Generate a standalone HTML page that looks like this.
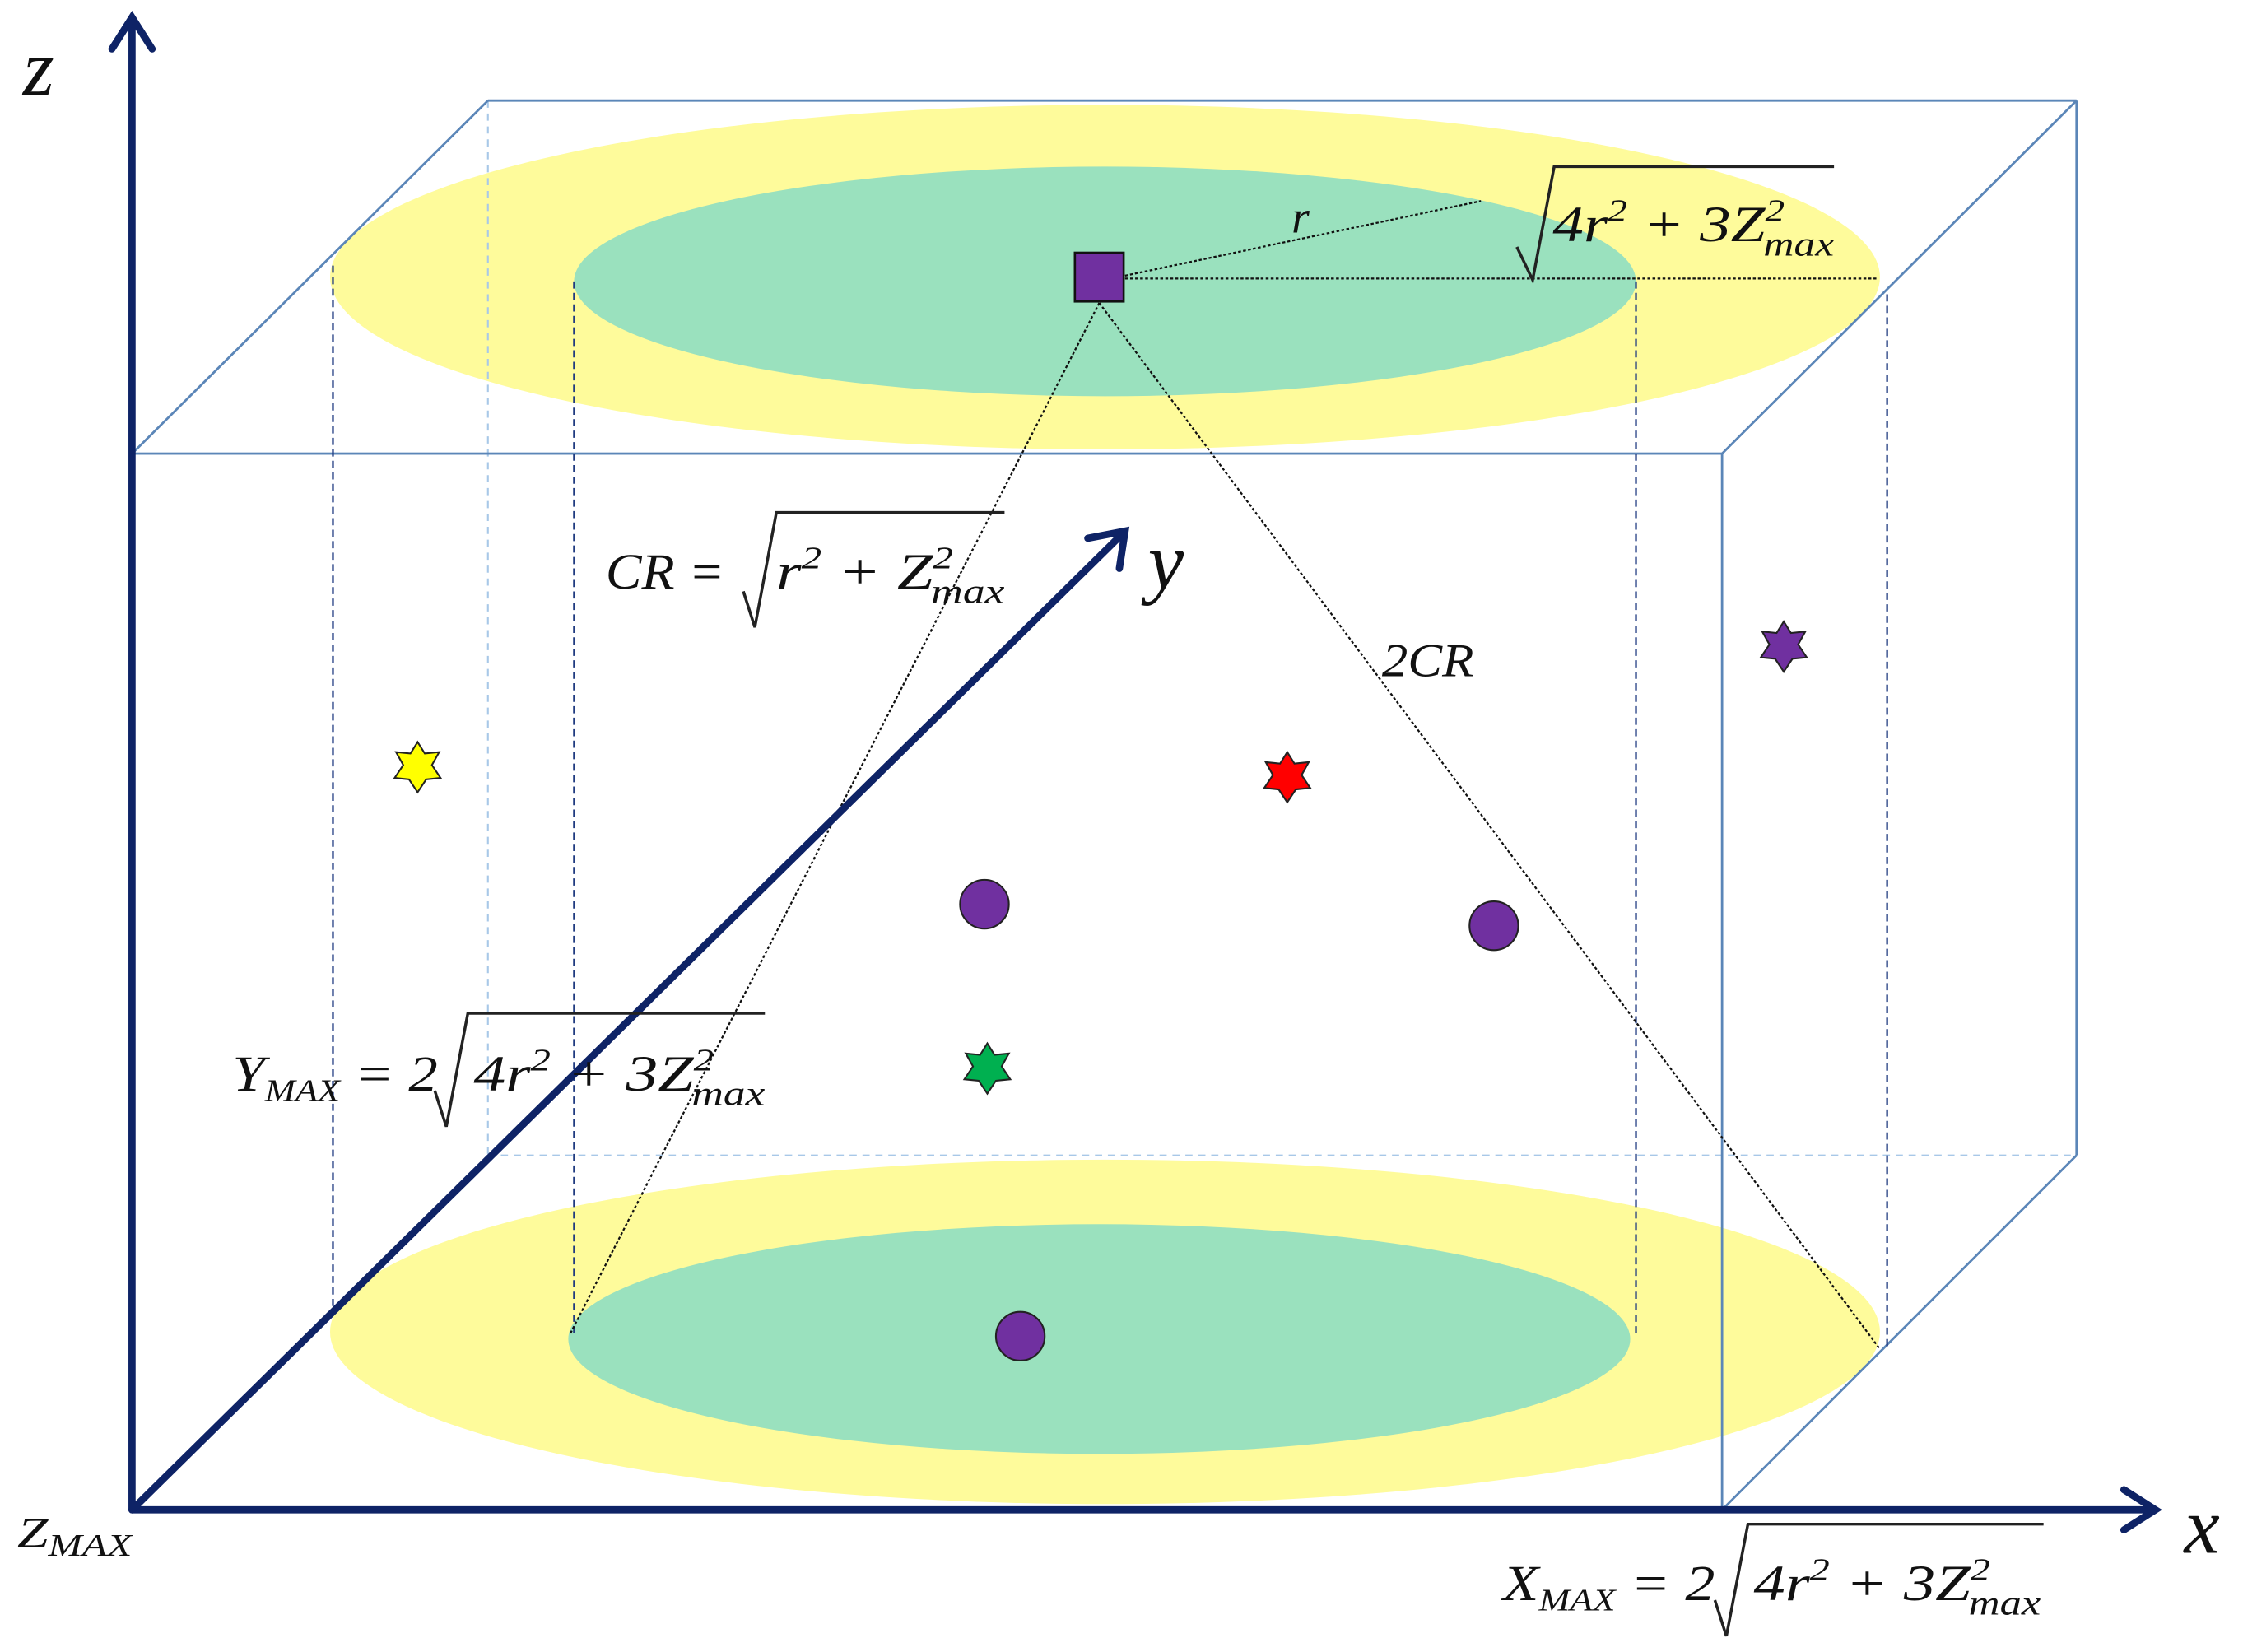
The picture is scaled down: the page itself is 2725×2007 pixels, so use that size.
<!DOCTYPE html>
<html><head><meta charset="utf-8"><style>html,body{margin:0;padding:0;background:#fff}svg{display:block}text{font-family:"Liberation Serif",serif;font-style:italic;fill:#111}</style></head>
<body>
<svg width="2725" height="2007" viewBox="0 0 1563 1151" xmlns="http://www.w3.org/2000/svg">
<ellipse cx="770" cy="193" rx="540" ry="120" fill="#fefb9b"/>
<ellipse cx="770" cy="196" rx="370" ry="80" fill="#9ae1be"/>
<ellipse cx="770" cy="928" rx="540" ry="120" fill="#fefb9b"/>
<ellipse cx="766" cy="933" rx="370" ry="80" fill="#9ae1be"/>
<line x1="340" y1="70" x2="340" y2="805" stroke="#a8c8e8" stroke-width="1.2" stroke-dasharray="5,4"/>
<line x1="340" y1="805" x2="1447" y2="805" stroke="#a8c8e8" stroke-width="1.2" stroke-dasharray="5,4"/>
<g stroke="#5b86b8" stroke-width="1.6" fill="none">
<line x1="340" y1="70" x2="1447" y2="70"/>
<line x1="1447" y1="70" x2="1447" y2="805"/>
<rect x="92" y="316" width="1108" height="736"/>
<line x1="92" y1="316" x2="340" y2="70"/>
<line x1="1200" y1="316" x2="1447" y2="70"/>
<line x1="1200" y1="1052" x2="1447" y2="805"/>
</g>
<g stroke="#1f3a80" stroke-width="1.3" stroke-dasharray="5,3">
<line x1="232" y1="185" x2="232" y2="915"/>
<line x1="400" y1="196" x2="400" y2="930"/>
<line x1="1140" y1="196" x2="1140" y2="930"/>
<line x1="1315" y1="205" x2="1315" y2="940"/>
</g>
<g stroke="#111" stroke-width="1.3" stroke-dasharray="2,1.5" fill="none">
<line x1="784" y1="192" x2="1032" y2="140"/>
<line x1="784" y1="194" x2="1308" y2="194"/>
<line x1="766" y1="211" x2="397" y2="930"/>
<line x1="766" y1="211" x2="1310" y2="940"/>
</g>
<rect x="749" y="176" width="34" height="34" fill="#7030a0" stroke="#111" stroke-width="1.5"/>
<g stroke="#0e2366" stroke-width="5" fill="none" stroke-linecap="round">
<line x1="92" y1="1052" x2="92" y2="14"/>
<polyline points="78,34 92,12 106,34"/>
<line x1="92" y1="1052" x2="1500" y2="1052"/>
<polyline points="1480,1038 1502,1052 1480,1066"/>
<line x1="92" y1="1052" x2="782" y2="372"/>
<polyline points="758,375 784,370 780,396"/>
</g>
<g stroke="#222" stroke-width="1.2">
<circle cx="686" cy="630" r="17" fill="#7030a0"/>
<circle cx="1041" cy="645" r="17" fill="#7030a0"/>
<circle cx="711" cy="931" r="17" fill="#7030a0"/>
<polygon fill="#ffff00" transform="translate(291,535)" points="0,-18 5,-10 15,-11 10,-2 16,7 6,8 0,17 -6,8 -16,7 -10,-2 -15,-11 -5,-10"/>
<polygon fill="#ff0000" transform="translate(897,542)" points="0,-18 5,-10 15,-11 10,-2 16,7 6,8 0,17 -6,8 -16,7 -10,-2 -15,-11 -5,-10"/>
<polygon fill="#7030a0" transform="translate(1243,451)" points="0,-18 5,-10 15,-11 10,-2 16,7 6,8 0,17 -6,8 -16,7 -10,-2 -15,-11 -5,-10"/>
<polygon fill="#00b050" transform="translate(688,745)" points="0,-18 5,-10 15,-11 10,-2 16,7 6,8 0,17 -6,8 -16,7 -10,-2 -15,-11 -5,-10"/>
</g>
<text x="16" y="66" font-size="56">z</text>
<text x="1522" y="1082" font-size="56">x</text>
<text x="800" y="410" font-size="56">y</text>
<text x="12" y="1078" font-size="30" textLength="80" lengthAdjust="spacingAndGlyphs">Z<tspan font-size="22" dy="6">MAX</tspan></text>
<text x="900" y="162" font-size="32">r</text>
<text x="963" y="471" font-size="33" textLength="64" lengthAdjust="spacingAndGlyphs">2CR</text>
<g stroke="#222" stroke-width="2" fill="none">
<polyline points="1057,172 1068,195 1083,116 1278,116"/>
<polyline points="518,412 526,437 541,357 700,357"/>
<polyline points="303,760 311,785 326,706 533,706"/>
<polyline points="1195,1115 1203,1140 1218,1062 1424,1062"/>
</g>
<text x="1082" y="168" font-size="35" textLength="196" lengthAdjust="spacingAndGlyphs">4r<tspan font-size="22" dy="-14">2</tspan><tspan dy="14"> + 3Z</tspan><tspan font-size="22" dy="-14">2</tspan><tspan font-size="24" dx="-12" dy="24">max</tspan></text>
<text x="422" y="410" font-size="35" textLength="83" lengthAdjust="spacingAndGlyphs">CR =</text>
<text x="541" y="410" font-size="35" textLength="159" lengthAdjust="spacingAndGlyphs">r<tspan font-size="22" dy="-14">2</tspan><tspan dy="14"> + Z</tspan><tspan font-size="22" dy="-14">2</tspan><tspan font-size="24" dx="-12" dy="24">max</tspan></text>
<text x="162" y="760" font-size="35" textLength="143" lengthAdjust="spacingAndGlyphs">Y<tspan font-size="22" dy="7">MAX</tspan><tspan dy="-7"> = 2</tspan></text>
<text x="330" y="760" font-size="35" textLength="203" lengthAdjust="spacingAndGlyphs">4r<tspan font-size="22" dy="-14">2</tspan><tspan dy="14"> + 3Z</tspan><tspan font-size="22" dy="-14">2</tspan><tspan font-size="24" dx="-12" dy="24">max</tspan></text>
<text x="1047" y="1115" font-size="35" textLength="148" lengthAdjust="spacingAndGlyphs">X<tspan font-size="22" dy="7">MAX</tspan><tspan dy="-7"> = 2</tspan></text>
<text x="1222" y="1115" font-size="35" textLength="200" lengthAdjust="spacingAndGlyphs">4r<tspan font-size="22" dy="-14">2</tspan><tspan dy="14"> + 3Z</tspan><tspan font-size="22" dy="-14">2</tspan><tspan font-size="24" dx="-12" dy="24">max</tspan></text>
</svg>
</body></html>
